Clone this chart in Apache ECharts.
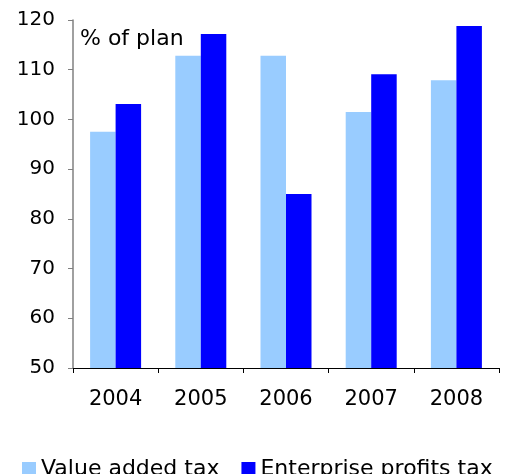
<!DOCTYPE html>
<html><head><meta charset="utf-8">
<script src="https://cdn.jsdelivr.net/npm/echarts@6/dist/echarts.min.js"></script>
<style>html,body{margin:0;padding:0;background:#fff}#c{width:517px;height:474px}</style>
</head><body><div id="c"></div>
<script>
const categories = ['2004', '2005', '2006', '2007', '2008'];
const vatValues = [97.5, 112.8, 112.8, 101.5, 107.9];
const profitValues = [103.1, 117.2, 85.0, 109.1, 118.8];
const seriesNames = ['Value added tax', 'Enterprise profits tax'];
const yTicks = { min: 50, max: 120, interval: 10 };
const unitLabel = '% of plan';

const font = 'DejaVu Sans, Verdana, sans-serif';
const chart = echarts.init(document.getElementById('c'), null, { renderer: 'canvas' });
chart.setOption({
  animation: false,
  textStyle: { fontFamily: font },
  grid: { left: 73, right: 18, top: 20, bottom: 106, containLabel: false },
  title: {
    text: unitLabel, left: 80, top: 28, padding: 0,
    textStyle: { fontFamily: font, fontSize: 22, fontWeight: 'normal', color: '#000' }
  },
  legend: {
    left: 22, top: 458, padding: 0, itemWidth: 14, itemHeight: 14, itemGap: 22,
    icon: 'rect',
    textStyle: { fontFamily: font, fontSize: 22, color: '#000', padding: [8, 0, 0, 0] },
    data: seriesNames
  },
  xAxis: {
    type: 'category', data: categories,
    axisLine: { lineStyle: { color: '#000', width: 1 } },
    axisTick: { show: true, alignWithLabel: false, length: 5, lineStyle: { color: '#000' } },
    axisLabel: { fontFamily: font, fontSize: 21, color: '#000', margin: 21 }
  },
  yAxis: {
    type: 'value', min: yTicks.min, max: yTicks.max, interval: yTicks.interval,
    splitLine: { show: false },
    axisLine: { show: true, lineStyle: { color: '#808080', width: 1.5 } },
    axisTick: { show: true, length: 5, lineStyle: { color: '#808080' } },
    axisLabel: { fontFamily: font, fontSize: 20, color: '#000', margin: 18 }
  },
  series: [
    { name: seriesNames[0], type: 'bar', data: vatValues, barWidth: 25.5, barGap: '0%',
      itemStyle: { color: '#99CCFF' } },
    { name: seriesNames[1], type: 'bar', data: profitValues, barWidth: 25.5, barGap: '0%',
      itemStyle: { color: '#0000FF' } }
  ]
});
</script></body></html>
